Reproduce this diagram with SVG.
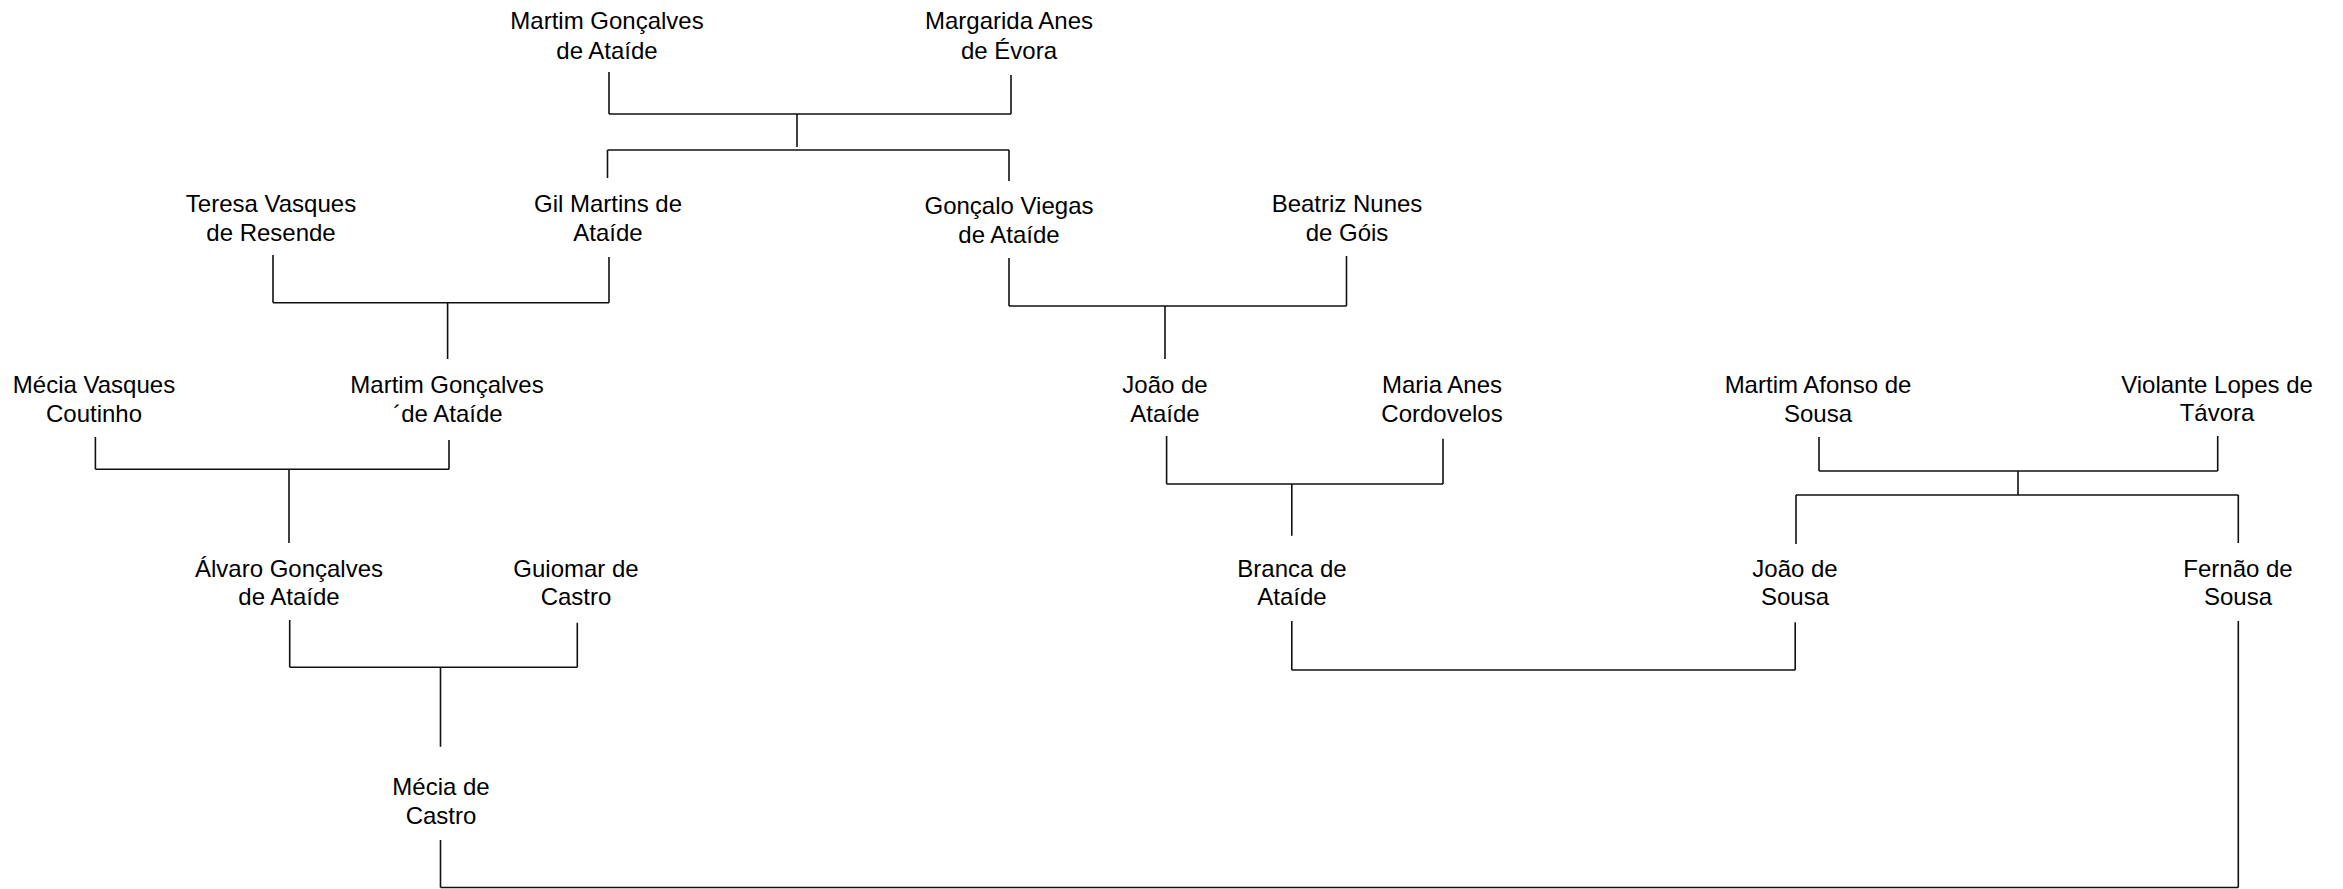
<svg xmlns="http://www.w3.org/2000/svg" width="2343" height="889" viewBox="0 0 2343 889">
<style>
text{font-family:"Liberation Sans",Arial,sans-serif;font-size:24px;fill:#000;text-anchor:middle}
.c path{fill:none;stroke:#111;stroke-width:1.6}
</style>
<rect width="2343" height="889" fill="#fff"/>
<g id="n1"><text x="607" y="29">Martim Gonçalves</text><text x="607" y="59">de Ataíde</text></g>
<g id="n2"><text x="1009" y="29">Margarida Anes</text><text x="1009" y="59">de Évora</text></g>
<g id="n3"><text x="271" y="212">Teresa Vasques</text><text x="271" y="241">de Resende</text></g>
<g id="n4"><text x="608" y="212">Gil Martins de</text><text x="608" y="241">Ataíde</text></g>
<g id="n5"><text x="1009" y="214">Gonçalo Viegas</text><text x="1009" y="243">de Ataíde</text></g>
<g id="n6"><text x="1347" y="212">Beatriz Nunes</text><text x="1347" y="241">de Góis</text></g>
<g id="n7"><text x="94" y="393">Mécia Vasques</text><text x="94" y="422">Coutinho</text></g>
<g id="n8"><text x="447" y="393">Martim Gonçalves</text><text x="448" y="422">´de Ataíde</text></g>
<g id="n9"><text x="1165" y="393">João de</text><text x="1165" y="422">Ataíde</text></g>
<g id="n10"><text x="1442" y="393">Maria Anes</text><text x="1442" y="422">Cordovelos</text></g>
<g id="n11"><text x="1818" y="393">Martim Afonso de</text><text x="1818" y="422">Sousa</text></g>
<g id="n12"><text x="2217" y="393">Violante Lopes de</text><text x="2217" y="421">Távora</text></g>
<g id="n13"><text x="289" y="577">Álvaro Gonçalves</text><text x="289" y="605">de Ataíde</text></g>
<g id="n14"><text x="576" y="577">Guiomar de</text><text x="576" y="605">Castro</text></g>
<g id="n15"><text x="1292" y="577">Branca de</text><text x="1292" y="605">Ataíde</text></g>
<g id="n16"><text x="1795" y="577">João de</text><text x="1795" y="605">Sousa</text></g>
<g id="n17"><text x="2238" y="577">Fernão de</text><text x="2238" y="605">Sousa</text></g>
<g id="n18"><text x="441" y="795">Mécia de</text><text x="441" y="824">Castro</text></g>
<g id="connectors" class="c">
<path d="M609 72V114M1011 75V114M609 114H1011M797 114V147M607.5 150H1009M607.5 150V178M1009 150V181"/>
<path d="M273 255V302.7M609 257V302.7M273 302.7H609M447.6 302.7V359"/>
<path d="M1009 258V306M1346.5 256V306M1009 306H1346.5M1165 306V359"/>
<path d="M95.4 437V469.3M449 440V469.3M95.4 469.3H449M289 469.3V543"/>
<path d="M1166.6 436V484M1443 438.7V484M1166.6 484H1443M1291.8 484V535.7"/>
<path d="M1819 437V471M2217.7 436V471M1819 471H2217.7M2018 471V495M1796 495H2238.3M1796 495V544M2238.3 495V543"/>
<path d="M289.7 620V667.3M577.3 622.7V667.3M289.7 667.3H577.3M440.5 667.3V746.7"/>
<path d="M1291.8 621V670M1795.2 622.3V670M1291.8 670H1795.2"/>
<path d="M440.5 840V887.5M2238.3 621V887.5M440.5 887.5H2238.3"/>
</g>
</svg>
